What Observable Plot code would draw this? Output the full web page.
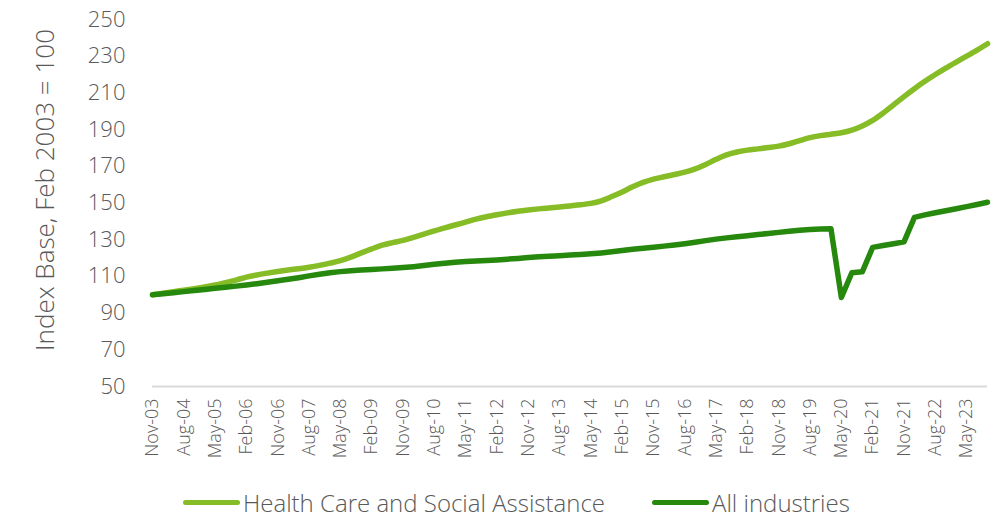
<!DOCTYPE html>
<html><head><meta charset="utf-8">
<script src="https://cdn.jsdelivr.net/npm/d3@7"></script>
<script src="https://cdn.jsdelivr.net/npm/@observablehq/plot@0.6"></script>
<style>
body{margin:0;background:#fff;font-family:"Open Sans",sans-serif;}
#chart{position:relative;width:1000px;height:527px;}
.legend{position:absolute;top:480px;left:0;width:1000px;height:44px;}
.item{position:absolute;top:0;height:44px;display:flex;align-items:center;font-size:24px;font-weight:300;color:#595959;white-space:nowrap;}
.sw{width:57px;height:5px;border-radius:3px;margin-right:3px;}
</style></head><body><div id="chart"></div>
<script>
const quarters = [
"Nov-03","Feb-04","May-04","Aug-04","Nov-04","Feb-05","May-05","Aug-05","Nov-05",
"Feb-06","May-06","Aug-06","Nov-06","Feb-07","May-07","Aug-07","Nov-07",
"Feb-08","May-08","Aug-08","Nov-08","Feb-09","May-09","Aug-09","Nov-09",
"Feb-10","May-10","Aug-10","Nov-10","Feb-11","May-11","Aug-11","Nov-11",
"Feb-12","May-12","Aug-12","Nov-12","Feb-13","May-13","Aug-13","Nov-13",
"Feb-14","May-14","Aug-14","Nov-14","Feb-15","May-15","Aug-15","Nov-15",
"Feb-16","May-16","Aug-16","Nov-16","Feb-17","May-17","Aug-17","Nov-17",
"Feb-18","May-18","Aug-18","Nov-18","Feb-19","May-19","Aug-19","Nov-19",
"Feb-20","May-20","Aug-20","Nov-20","Feb-21","May-21","Aug-21","Nov-21",
"Feb-22","May-22","Aug-22","Nov-22","Feb-23","May-23","Aug-23","Nov-23"];

const healthCare = [
100.0,100.8,101.7,102.5,103.3,104.2,105.3,106.6,108.0,
109.6,110.8,111.8,112.7,113.5,114.2,115.0,116.0,
117.2,118.6,120.5,122.8,125.0,127.0,128.4,129.6,
131.3,133.0,134.8,136.5,138.0,139.6,141.2,142.5,
143.6,144.6,145.5,146.2,146.8,147.3,147.8,148.4,
149.0,149.8,151.2,153.5,156.0,158.8,161.2,163.0,
164.3,165.5,166.8,168.6,171.0,173.8,176.2,177.8,
178.8,179.5,180.2,181.0,182.3,184.0,185.6,186.7,
187.5,188.3,189.7,192.0,195.0,199.0,203.5,208.0,
212.3,216.3,220.0,223.5,226.8,230.0,233.3,236.8];

const allIndustries = [
100.0,100.5,101.1,101.7,102.3,102.9,103.5,104.1,104.7,
105.3,106.0,106.8,107.6,108.4,109.3,110.3,111.2,
112.0,112.6,113.1,113.5,113.8,114.1,114.4,114.8,
115.3,115.9,116.6,117.2,117.7,118.1,118.4,118.7,
119.0,119.4,119.8,120.3,120.7,121.0,121.3,121.6,
121.9,122.3,122.8,123.4,124.1,124.8,125.4,125.9,
126.5,127.1,127.8,128.6,129.5,130.3,131.0,131.6,
132.2,132.8,133.4,134.0,134.6,135.1,135.5,135.8,
136.0,98.5,112.0,112.5,125.8,126.8,127.8,128.8,
142.2,143.5,144.7,145.8,146.9,148.0,149.2,150.4];

const xTickLabels = ["Nov-03","Aug-04","May-05","Feb-06","Nov-06","Aug-07","May-08","Feb-09","Nov-09",
"Aug-10","May-11","Feb-12","Nov-12","Aug-13","May-14","Feb-15","Nov-15","Aug-16",
"May-17","Feb-18","Nov-18","Aug-19","May-20","Feb-21","Nov-21","Aug-22","May-23"];
const yTicks = [50,70,90,110,130,150,170,190,210,230,250];
const seriesNames = ["Health Care and Social Assistance","All industries"];
const seriesColors = ["#86BC25","#26890D"];
const yLabel = "Index Base, Feb 2003 = 100";

const healthRows = quarters.map((q,i)=>({q, v: healthCare[i]}));
const allRows = quarters.map((q,i)=>({q, v: allIndustries[i]}));

const plot = Plot.plot({
  width:1000, height:480,
  marginLeft:152, marginRight:13, marginTop:19, marginBottom:94,
  style:{fontFamily:'"Open Sans",sans-serif', color:"#595959", background:"transparent"},
  x:{type:"point", domain:quarters, padding:0},
  y:{domain:[50,250]},
  marks:[
    Plot.ruleY([50],{stroke:"#d9d9d9",strokeWidth:2}),
    Plot.axisX({ticks:xTickLabels, tickRotate:-90, tickSize:0, tickPadding:12, fontSize:18, fontWeight:300, label:null}),
    Plot.axisY({ticks:yTicks, tickSize:0, tickPadding:27, fontSize:22, fontWeight:300, label:null}),
    Plot.text([yLabel],{frameAnchor:"left", rotate:-90, dx:-107, dy:-13, fontSize:26, fontWeight:300, fill:"#595959", textAnchor:"middle", lineAnchor:"middle"}),
    Plot.line(healthRows,{x:"q", y:"v", stroke:seriesColors[0], strokeWidth:5.5, strokeLinecap:"round", strokeLinejoin:"round", curve:"catmull-rom"}),
    Plot.line(allRows,{x:"q", y:"v", stroke:seriesColors[1], strokeWidth:5.5, strokeLinecap:"round", strokeLinejoin:"round"})
  ]
});
const chart = document.getElementById("chart");
chart.appendChild(plot);
const legend = document.createElement("div");
legend.className = "legend";
const lefts = [183, 652];
seriesNames.forEach((name,i)=>{
  const it = document.createElement("div");
  it.className = "item";
  it.style.left = lefts[i] + "px";
  const sw = document.createElement("span");
  sw.className = "sw";
  sw.style.background = seriesColors[i];
  const tx = document.createElement("span");
  tx.textContent = name;
  it.appendChild(sw); it.appendChild(tx);
  legend.appendChild(it);
});
chart.appendChild(legend);
</script>
</body></html>
